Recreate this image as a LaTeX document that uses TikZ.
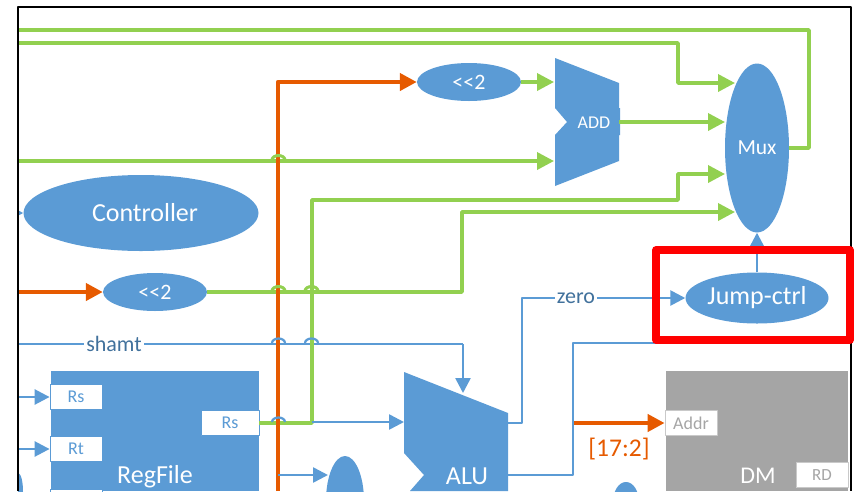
\documentclass[tikz,border=0pt]{standalone}
\usepackage{fontspec}
\setmainfont{Carlito}
\usetikzlibrary{shapes.geometric, arrows.meta}
\definecolor{cpublue}{RGB}{91, 155, 213}
\definecolor{cputext}{RGB}{65, 113, 156}
\definecolor{cpugreen}{RGB}{146, 208, 80}
\definecolor{cpuorange}{RGB}{230, 90, 0}
\definecolor{cpugray}{RGB}{165, 165, 165}

\begin{document}
\begin{tikzpicture}[
    x=1pt, y=-1pt,
    line join=round,
    unit/.style={ellipse, fill=cpublue, text=white, inner sep=0pt},
    port/.style={draw=cpublue, fill=white, text=cpublue, minimum width=#1, minimum height=25pt, inner sep=0pt, line width=0.8pt, font=\fontsize{18}{18}\selectfont},
    port/.default=52pt,
    busg/.style={draw=cpugreen, line width=3.6pt},
    buso/.style={draw=cpuorange, line width=4.2pt},
    busb/.style={draw=cpublue, line width=2.6pt},
    tipg/.style={-{Triangle[length=17pt, width=17pt]}},
    tipb/.style={-{Triangle[length=15pt, width=15pt]}},
    wirelabel/.style={fill=white, text=cputext, font=\fontsize{22}{22}\selectfont, inner xsep=2pt, inner ysep=0pt}
]
    \useasboundingbox (0,0) rectangle (857,491);

    % --- Blocks ---
    \node[unit, minimum width=235pt, minimum height=76pt, font=\fontsize{26}{26}\selectfont] (controller) at (141,213) {\hspace*{8pt}Controller};
    \node[unit, minimum width=104pt, minimum height=38pt, font=\fontsize{22}{22}\selectfont] (shiftA) at (469,82) {{<}{<}2};
    \node[unit, minimum width=104pt, minimum height=38pt, font=\fontsize{22}{22}\selectfont] (shiftB) at (155,292) {{<}{<}2};
    \node[unit, minimum width=64pt, minimum height=169pt, font=\fontsize{21.5}{22}\selectfont] (mux) at (757,148) {Mux};
    \node[unit, minimum width=143pt, minimum height=51pt, font=\fontsize{26}{26}\selectfont] (jump) at (757,298) {Jump-ctrl};
    \node[unit, minimum width=38pt, minimum height=90pt] (muxB) at (345,501) {};
    \node[unit, minimum width=26pt, minimum height=40pt] (muxC) at (626,502) {};

    \fill[cpublue] (555,58) -- (619,83) -- (619,108) -- (620,108) -- (620,135) -- (619,135) -- (619,161) -- (555,186) -- (555,135) -- (567,122) -- (555,108) -- cycle;
    \node[text=white, font=\fontsize{18}{18}\selectfont] (addlabel) at (594,123) {ADD};
    \fill[cpublue] (404,372) -- (508,413) -- (508,491) -- (410,491) -- (424,475) -- (404,453) -- cycle;
    \node[text=white, font=\fontsize{26}{26}\selectfont] (alulabel) at (467,476) {ALU};
    \fill[cpublue] (51,371) rectangle (259,491);
    \node[text=white, font=\fontsize{26}{26}\selectfont] (regfile) at (155,477) {RegFile};
    \fill[cpugray] (666,371) rectangle (848,491);
    \node[text=white, font=\fontsize{24}{24}\selectfont] (dm) at (758,476) {DM};

    % --- Ports ---
    \node[port] (portRs) at (76,397) {Rs};
    \node[port] (portRt) at (76,449) {Rt};
    \node[port] (portW) at (76,502) {};
    \node[port=58pt] (portOut) at (230,423) {Rs};
    \node[port, draw=cpugray!60, text=cpugray] (portAddr) at (691,423) {Addr};
    \node[port, draw=cpugray!60, text=cpugray, font=\fontsize{17}{17}\selectfont] (portRD) at (822,475) {RD};

    % --- Blue wire under the vertical buses ---
    \draw[busb] (18,344) -- (463,344);

    % --- Green buses ---
    \coordinate (leftA) at (18,30);
    \coordinate (leftB) at (18,43);
    \coordinate (leftC) at (18,161);
    \coordinate (inMuxA) at (735,83);
    \coordinate (inMuxB) at (725,122);
    \coordinate (inMuxC) at (725,174);
    \coordinate (inMuxD) at (735,212);
    \coordinate (inAddA) at (554,82);
    \coordinate (inAddB) at (554,161);
    \coordinate (outAdd) at (619,122);

    \draw[busg] (mux.east) -| (809,30) -- (leftA);
    \draw[busg, tipg] (leftB) -| (678,83) -- (inMuxA);
    \draw[busg, tipg] (outAdd) -- (inMuxB);
    \draw[busg, tipg] (shiftA.east) -- (inAddA);
    \draw[busg, tipg] (leftC) -- (inAddB);
    \draw[busg, tipg] (portOut.east) -- (312,423) -- (312,200) -- (678,200) -- (678,174) -- (inMuxC);
    \draw[busg, tipg] (shiftB.east) -- (462,292) -- (462,212) -- (inMuxD);

    % --- Orange buses ---
    \draw[buso, tipg] (278,491) -- (278,82) -- (shiftA.west);
    \draw[buso, tipg] (18,292) -- (shiftB.west);
    \draw[buso, tipg] (574,423) -- (portAddr.west);
    \node[text=cpuorange, font=\fontsize{25.5}{26}\selectfont] (bits) at (619,449) {[17:2]};

    % --- Line hops over the vertical buses ---
    \draw[draw=cpugreen, line width=3pt] (272,160) arc (180:0:6.5pt and 4.5pt);
    \draw[draw=cpugreen, line width=3pt] (272,291) arc (180:0:6.5pt and 4.5pt);
    \draw[draw=cpugreen, line width=3pt] (305,291) arc (180:0:6.5pt and 4.5pt);
    \draw[draw=cpublue, line width=2.2pt] (272,343) arc (180:0:6.5pt and 4.5pt);
    \draw[draw=cpublue, line width=2.2pt] (305,343) arc (180:0:6.5pt and 4.5pt);
    \draw[draw=cpublue, line width=2.2pt] (272,422) arc (180:0:6.5pt and 4.5pt);

    % --- Blue wires ---
    \coordinate (inAluA) at (463,393);
    \coordinate (inAluB) at (404,422);
    \coordinate (inMem) at (328,475);
    \draw[busb, tipb] (463,344) -- (inAluA);
    \draw[busb, tipb] (jump.north) -- (mux.south);
    \draw[busb, tipb] (508,423) -- (522,423) -- (522,298) -- (jump.west);
    \draw[busb] (508,475) -- (573,475) -- (573,343) -- (848,343);
    \draw[busb, tipb] (312,422) -- (inAluB);
    \draw[busb, tipb] (18,397) -- (portRs.west);
    \draw[busb, tipb] (18,449) -- (portRt.west);
    \draw[busb, tipb] (278,475) -- (inMem);
    \node[wirelabel] (shamt) at (114,344) {shamt};
    \node[wirelabel] (zero) at (576,298) {zero};

    % --- Pieces cut off by the frame ---
    \begin{scope}
        \clip (18,0) rectangle (857,491);
        \node[unit, minimum width=10pt, minimum height=36pt] (muxD) at (18,491) {};
        \draw[busb, tipb] (9,213) -- (controller.west);
    \end{scope}

    % --- Frames ---
    \draw[black, line width=2.7pt] (18,491) -- (18,7) -- (851,7) -- (851,491);
    \draw[red, line width=7.5pt] (656,250) rectangle (850,340);
\end{tikzpicture}
\end{document}
